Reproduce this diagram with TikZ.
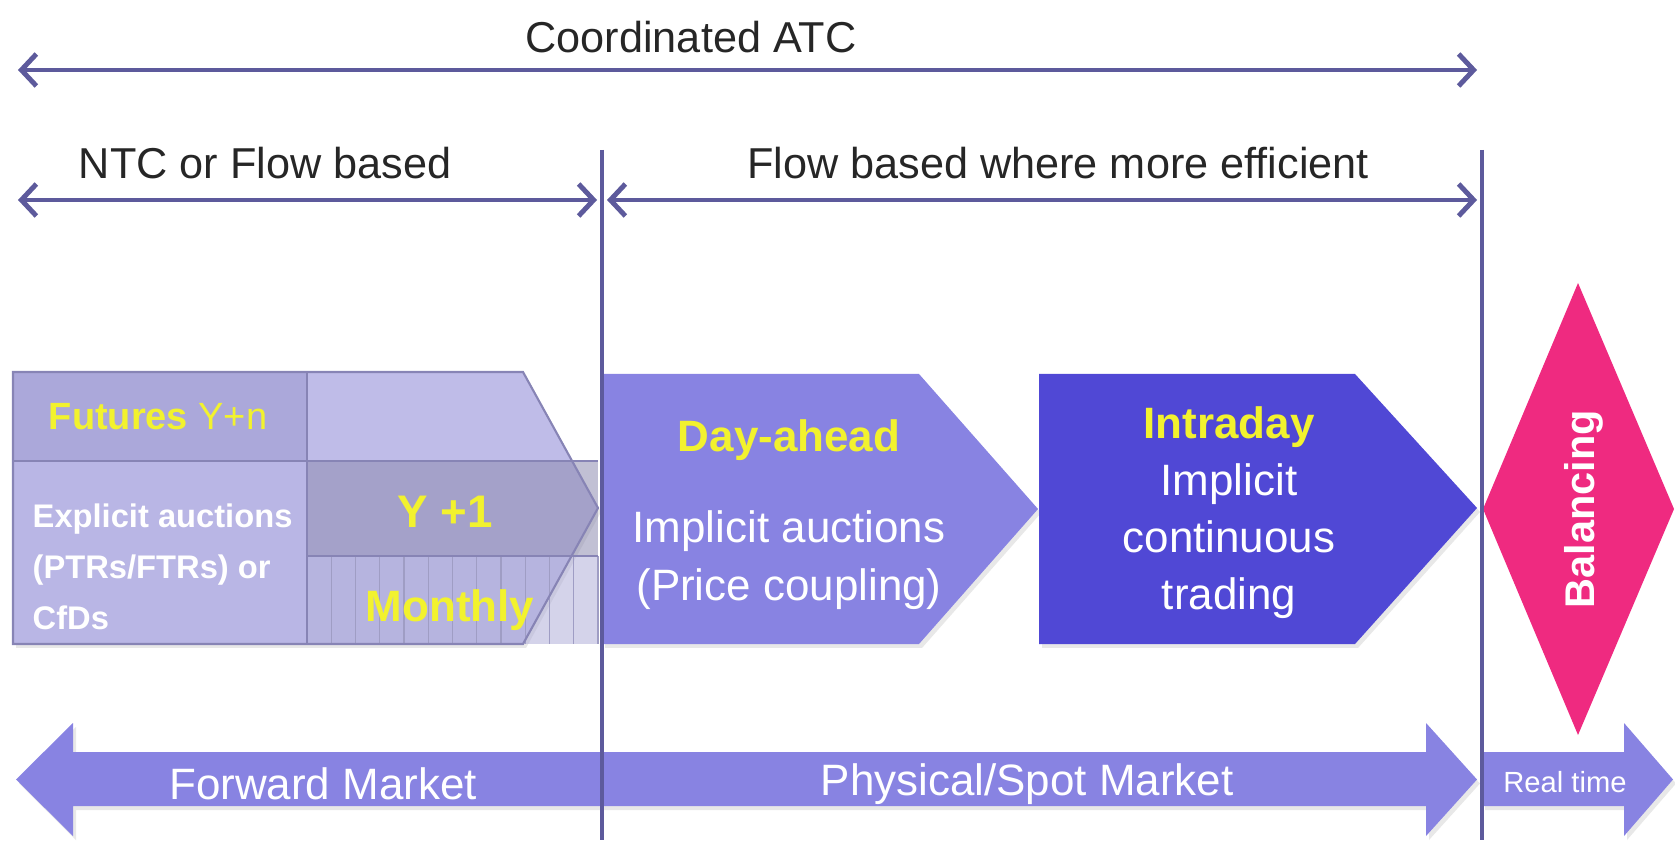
\documentclass[tikz,border=0pt]{standalone}
\usepackage{fontspec}
\setmainfont{Liberation Sans}
\usetikzlibrary{arrows.meta,shadows}

\definecolor{spanline}{HTML}{5D5A9C}
\definecolor{leftlav}{HTML}{BFBCE8}
\definecolor{futcol}{HTML}{ABA8DA}
\definecolor{explcol}{HTML}{B9B6E5}
\definecolor{yonecol}{HTML}{8E8CB0}
\definecolor{monthcol}{HTML}{B0AED8}
\definecolor{blockedge}{HTML}{8784B5}
\definecolor{dayahead}{HTML}{8883E2}
\definecolor{intraday}{HTML}{5048D5}
\definecolor{balpink}{HTML}{EF2A80}
\definecolor{hiyellow}{HTML}{F2F22E}

\tikzset{
  span/.style={spanline, line width=1.4pt,
    {Straight Barb[length=1.5mm,width=3.2mm]}-{Straight Barb[length=1.5mm,width=3.2mm]}},
  divider/.style={spanline, line width=1.1pt},
  softshadow/.style={drop shadow={opacity=.18, shadow xshift=.03, shadow yshift=-.04}},
  toplbl/.style={text=black!85, font=\fontsize{12.3}{15}\selectfont, inner sep=0pt},
  hilbl/.style={text=hiyellow, font=\fontsize{12.5}{16}\selectfont\bfseries, inner sep=0pt},
  whlbl/.style={text=white, font=\fontsize{12.5}{16.2}\selectfont, inner sep=0pt, align=center},
}

\begin{document}
\begin{tikzpicture}
\useasboundingbox (0,0) rectangle (16.75,8.40);

% forward block
\fill[leftlav, softshadow] (0.13,4.68) -- (5.23,4.68) -- (5.98,3.32) -- (5.23,1.96) -- (0.13,1.96) -- cycle;
\fill[futcol] (0.13,4.68) rectangle (3.07,3.79);
\fill[explcol] (0.13,3.79) rectangle (3.07,1.96);
\fill[yonecol, opacity=.55] (3.07,3.79) rectangle (5.98,2.84);
\fill[monthcol, opacity=.55] (3.07,2.84) rectangle (5.98,1.96);
\foreach \i in {0,...,12}
  \draw[blockedge!80, line width=.4pt] ({3.07+\i*0.2425},2.84) -- ++(0,-0.88);
\draw[blockedge, line width=.5pt] (0.13,3.79) -- (5.98,3.79);
\draw[blockedge, line width=.5pt] (3.07,2.84) -- (5.98,2.84);
\draw[blockedge, line width=.5pt] (3.07,4.68) -- (3.07,1.96);
\draw[blockedge, line width=.6pt] (0.13,4.68) -- (5.23,4.68) -- (5.98,3.32) -- (5.23,1.96) -- (0.13,1.96) -- cycle;

\node[hilbl, font=\fontsize{10.8}{13}\selectfont\bfseries] (fut) at (1.58,4.23) {Futures \mdseries Y+n};
\node[text=white, font=\fontsize{9.3}{14.6}\selectfont\bfseries, align=left, anchor=west, inner sep=0pt]
  (expl) at (0.32,2.73) {Explicit auctions\\(PTRs/FTRs) or\\CfDs};
\node[hilbl, font=\fontsize{13}{16}\selectfont\bfseries] (yone) at (4.45,3.28) {Y +1};
\node[hilbl] (month) at (4.50,2.30) {Monthly};

% day-ahead
\fill[dayahead, softshadow] (6.02,4.66) -- (9.19,4.66) -- (10.38,3.31) -- (9.19,1.96) -- (6.02,1.96) -- cycle;
\node[hilbl] (da) at (7.89,4.00) {Day-ahead};
\node[whlbl, font=\fontsize{12.5}{16.6}\selectfont] (daimp) at (7.89,2.80) {Implicit auctions\\(Price coupling)};

% intraday
\fill[intraday, softshadow] (10.39,4.66) -- (13.55,4.66) -- (14.77,3.32) -- (13.55,1.96) -- (10.39,1.96) -- cycle;
\node[whlbl] (id) at (12.29,3.27) {\textcolor{hiyellow}{\bfseries Intraday}\\Implicit\\continuous\\trading};

% balancing
\fill[balpink] (14.83,3.31) -- (15.78,5.57) -- (16.74,3.31) -- (15.78,1.05) -- cycle;
\node[text=white, font=\fontsize{11.8}{14}\selectfont\bfseries, rotate=90, inner sep=0pt] (bal) at (15.84,3.31) {Balancing};

% market arrows
\fill[dayahead, softshadow] (6.02,0.88) -- (0.73,0.88) -- (0.73,1.17) -- (0.16,0.605) -- (0.73,0.04) -- (0.73,0.34) -- (6.02,0.34) -- cycle;
\fill[dayahead, softshadow] (6.02,0.88) -- (14.26,0.88) -- (14.26,1.17) -- (14.77,0.605) -- (14.26,0.04) -- (14.26,0.34) -- (6.02,0.34) -- cycle;
\fill[dayahead, softshadow] (14.82,0.88) -- (16.24,0.88) -- (16.24,1.17) -- (16.73,0.605) -- (16.24,0.04) -- (16.24,0.34) -- (14.82,0.34) -- cycle;
\node[whlbl] (fwd) at (3.23,0.56) {Forward Market};
\node[whlbl] (spot) at (10.27,0.56) {Physical/Spot Market};
\node[whlbl, font=\fontsize{8.3}{10}\selectfont] (rt) at (15.65,0.58) {Real time};

% dividers
\coordinate (v1top) at (6.02,6.90);
\coordinate (v1bot) at (6.02,0);
\coordinate (v2top) at (14.82,6.90);
\coordinate (v2bot) at (14.82,0);
\draw[divider] (v1top) -- (v1bot);
\draw[divider] (v2top) -- (v2bot);

% spans
\coordinate (atcL) at (0.18,7.70);
\coordinate (atcR) at (14.77,7.70);
\coordinate (ntcL) at (0.18,6.40);
\coordinate (ntcR) at (5.97,6.40);
\coordinate (fbL) at (6.07,6.40);
\coordinate (fbR) at (14.77,6.40);
\draw[span] (atcL) -- (atcR);
\draw[span] (ntcL) -- (ntcR);
\draw[span] (fbL) -- (fbR);
\node[toplbl] (atc) at (6.91,8.03) {Coordinated ATC};
\node[toplbl] (ntc) at (2.65,6.77) {NTC or Flow based};
\node[toplbl] (fb) at (10.58,6.77) {Flow based where more efficient};

\end{tikzpicture}
\end{document}
